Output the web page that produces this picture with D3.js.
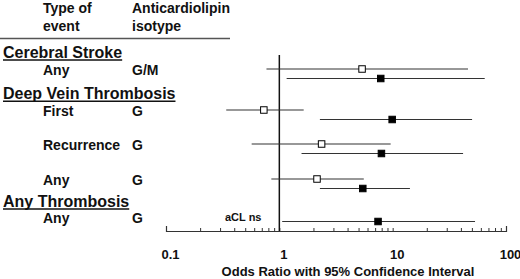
<!DOCTYPE html>
<meta charset="utf-8" />
<style>
  body { margin: 0; background: #fff; }
  text { font-family: "Liberation Sans", Arial, sans-serif; font-weight: bold; fill: #111; }
</style>
<body>
  <script src="https://d3js.org/d3.v7.min.js"></script>
  <script>
    // chart data
    const groups = ["Cerebral Stroke", "Deep Vein Thrombosis", "Any Thrombosis"];
    const rows = ["stroke-any", "dvt-first", "dvt-rec", "dvt-any", "thr-any"];
    const events = ["Any", "First", "Recurrence", "Any", "Any"];
    const isotypes = ["G/M", "G", "G", "G", "G"];
    // open squares
    const orOpen = [5.37, 0.73, 2.36, 2.15, null];
    const loOpen = [0.77, 0.34, 0.57, 0.85, null];
    const hiOpen = [46.2, 1.64, 9.6, 5.56, null];
    // filled squares
    const orFilled = [7.85, 9.9, 7.96, 5.45, 7.43];
    const loFilled = [1.16, 2.28, 1.57, 2.28, 1.06];
    const hiFilled = [64.9, 50.2, 41.8, 14.2, 53.3];
    const tickLabels = [0.1, 1, 10, 100];

    const width = 520, height = 279;
    const svg = d3.select("body").append("svg")
      .attr("width", width).attr("height", height);

    const x = d3.scaleLog().domain([0.1, 100]).range([166, 506]);
    const yRow = d3.scaleOrdinal().domain(rows).range([70.5, 111.5, 145.5, 180.5, 218.5]);
    const yGroup = d3.scaleOrdinal().domain(groups).range([58, 99.3, 207]);
    const axisY = 231;

    // column headings
    const head = svg.append("g");
    head.append("text").attr("x", 43).attr("y", 13).style("font-size", "14px").text("Type of");
    head.append("text").attr("x", 43).attr("y", 30.5).style("font-size", "14px").text("event");
    head.append("text").attr("x", 132).attr("y", 13).style("font-size", "14px").text("Anticardiolipin");
    head.append("text").attr("x", 132).attr("y", 30.5).style("font-size", "14px").text("isotype");
    head.append("line").attr("x1", 0).attr("x2", 230).attr("y1", 38.5).attr("y2", 38.5)
      .attr("stroke", "#555").attr("stroke-width", 1.5);

    // group headers, underlined
    groups.forEach(function (g) {
      const t = svg.append("text").attr("x", 3).attr("y", yGroup(g))
        .style("font-size", "16px").text(g);
      const w = t.node().getComputedTextLength();
      svg.append("line").attr("x1", 3).attr("x2", 3 + w)
        .attr("y1", yGroup(g) + 2).attr("y2", yGroup(g) + 2)
        .attr("stroke", "#111").attr("stroke-width", 1.5);
    });

    // row labels
    rows.forEach(function (r, i) {
      svg.append("text").attr("x", 43).attr("y", yRow(r)).attr("dy", "0.35em")
        .style("font-size", "14px").text(events[i]);
      svg.append("text").attr("x", 132).attr("y", yRow(r)).attr("dy", "0.35em")
        .style("font-size", "14px").text(isotypes[i]);
    });

    // axis with minor ticks pointing up
    const allTicks = [];
    [0.1, 1, 10].forEach(function (d) {
      for (let k = 1; k < 10; k++) allTicks.push(d * k);
    });
    allTicks.push(100);

    const axis = svg.append("g").attr("transform", "translate(0," + axisY + ")")
      .call(d3.axisBottom(x).tickValues(allTicks).tickSize(-3).tickSizeOuter(-5)
        .tickPadding(19).tickFormat(function (d) { return tickLabels.indexOf(d) >= 0 ? d3.format("~g")(d) : ""; }));
    axis.select(".domain").attr("stroke", "#333").attr("stroke-width", 1.2);
    axis.selectAll(".tick line").attr("stroke", "#333");
    axis.selectAll(".tick text").attr("dx", 4).style("font-size", "13px")
      .style("font-family", "'Liberation Sans', Arial, sans-serif").style("font-weight", "bold").attr("fill", "#111");

    svg.append("text").attr("x", 348).attr("y", 276).attr("text-anchor", "middle")
      .style("font-size", "13px").text("Odds Ratio with 95% Confidence Interval");

    // reference line at OR = 1
    svg.append("line").attr("x1", x(1)).attr("x2", x(1)).attr("y1", 55).attr("y2", axisY)
      .attr("stroke", "#111").attr("stroke-width", 1.5);

    svg.append("text").attr("x", 225).attr("y", 217.5).attr("dy", "0.35em")
      .style("font-size", "11px").text("aCL ns");

    // intervals + squares
    const marks = [];
    rows.forEach(function (r, i) {
      if (orOpen[i] != null) {
        marks.push({ y: yRow(r) - 1.5, or: orOpen[i], lo: loOpen[i], hi: hiOpen[i], open: true });
        marks.push({ y: yRow(r) + 8, or: orFilled[i], lo: loFilled[i], hi: hiFilled[i], open: false });
      } else {
        marks.push({ y: yRow(r) + 3, or: orFilled[i], lo: loFilled[i], hi: hiFilled[i], open: false });
      }
    });

    const m = svg.append("g").selectAll("g").data(marks).join("g");
    m.append("line")
      .attr("x1", function (d) { return x(d.lo); })
      .attr("x2", function (d) { return x(d.hi); })
      .attr("y1", function (d) { return d.y; })
      .attr("y2", function (d) { return d.y; })
      .attr("stroke", "#333").attr("stroke-width", 1.2);
    const s = 6.5;
    m.append("rect")
      .attr("x", function (d) { return x(d.or) - s / 2; })
      .attr("y", function (d) { return d.y - s / 2; })
      .attr("width", s).attr("height", s)
      .attr("fill", function (d) { return d.open ? "#fff" : "#000"; })
      .attr("stroke", "#000").attr("stroke-width", 1);
  </script>
</body>
